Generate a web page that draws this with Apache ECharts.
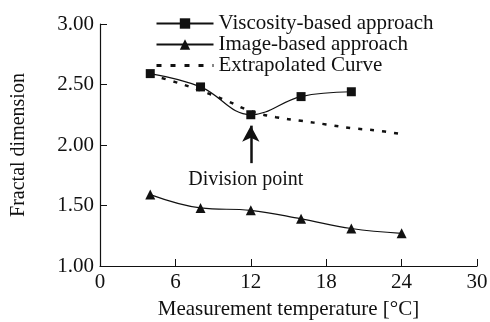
<!DOCTYPE html>
<html>
<head>
<meta charset="utf-8">
<script src="https://cdn.jsdelivr.net/npm/echarts@6/dist/echarts.min.js"></script>
<style>html,body{margin:0;padding:0;background:#fff}#c{width:490px;height:322px}</style>
</head>
<body>
<div id="c"></div>
<script>
var seriesNames = ['Viscosity-based approach', 'Image-based approach', 'Extrapolated Curve'];
var viscosityX = [4, 8, 12, 16, 20];
var viscosityY = [2.59, 2.48, 2.25, 2.40, 2.44];
var imageX = [4, 8, 12, 16, 20, 24];
var imageY = [1.59, 1.48, 1.46, 1.39, 1.31, 1.27];
var extrapX = [4, 6, 8, 10, 12, 14, 16, 18, 20, 22, 24];
var extrapY = [2.58, 2.52, 2.45, 2.37, 2.28, 2.23, 2.20, 2.17, 2.14, 2.12, 2.09];
var arrowX = 12, arrowFrom = 1.85, arrowTo = 2.16;
var annotation = 'Division point';

function pairs(xs, ys){ return xs.map(function(x,i){ return [x, ys[i]]; }); }

var font = 'Liberation Serif';
var ink = '#111';
var chart = echarts.init(document.getElementById('c'), null, {renderer:'canvas'});
chart.setOption({
  animation: false,
  backgroundColor: '#fff',
  textStyle: {fontFamily: font, color: ink},
  grid: {left: 100, right: 13, top: 24, bottom: 56, containLabel: false, outerBoundsMode: 'none'},
  legend: {
    orient: 'vertical', left: 155, top: 13, itemGap: 0, padding: 0,
    itemWidth: 57, itemHeight: 13,
    textStyle: {fontFamily: font, fontSize: 21, color: ink, lineHeight: 17.5},
    data: [
      {name: seriesNames[0]},
      {name: seriesNames[1]},
      {name: seriesNames[2], itemStyle: {opacity: 0}, lineStyle: {width: 3, type: [5, 9]}}
    ]
  },
  xAxis: {
    type: 'value', min: 0, max: 30, interval: 6,
    name: 'Measurement temperature [°C]', nameLocation: 'middle', nameGap: 33,
    nameTextStyle: {fontFamily: font, fontSize: 21, color: ink},
    axisLine: {lineStyle: {color: ink, width: 1.2}},
    axisTick: {inside: true, length: 7, lineStyle: {color: ink}},
    axisLabel: {fontFamily: font, fontSize: 21, color: ink, margin: 6},
    splitLine: {show: false}
  },
  yAxis: {
    type: 'value', min: 1, max: 3, interval: 0.5,
    name: 'Fractal dimension', nameLocation: 'middle', nameGap: 71,
    nameTextStyle: {fontFamily: font, fontSize: 20, color: ink},
    axisLine: {show: true, lineStyle: {color: ink, width: 1.2}},
    axisTick: {show: true, inside: true, length: 7, lineStyle: {color: ink}},
    axisLabel: {fontFamily: font, fontSize: 21, color: ink, margin: 6,
      formatter: function(v){ return v.toFixed(2); }},
    splitLine: {show: false}
  },
  series: [
    {
      name: seriesNames[0], type: 'line', smooth: 0.4,
      data: pairs(viscosityX, viscosityY),
      symbol: 'rect', symbolSize: 9,
      lineStyle: {color: ink, width: 1.2},
      itemStyle: {color: ink},
      markLine: {
        silent: true, symbol: ['none', 'arrow'], symbolSize: [13, 16],
        lineStyle: {color: ink, width: 2.5, type: 'solid'},
        label: {show: true, position: 'start', formatter: annotation, distance: 7,
          fontFamily: font, fontSize: 20, color: ink, offset: [-5, 0]},
        data: [[{coord: [arrowX, arrowFrom]}, {coord: [arrowX, arrowTo]}]]
      }
    },
    {
      name: seriesNames[1], type: 'line', smooth: 0.4,
      data: pairs(imageX, imageY),
      symbol: 'triangle', symbolSize: 10,
      lineStyle: {color: ink, width: 1.2},
      itemStyle: {color: ink}
    },
    {
      name: seriesNames[2], type: 'line', smooth: 0.4,
      data: pairs(extrapX, extrapY),
      symbol: 'none',
      lineStyle: {color: ink, width: 2.5, type: [4, 8]},
      itemStyle: {color: ink}
    }
  ]
});
</script>
</body>
</html>
